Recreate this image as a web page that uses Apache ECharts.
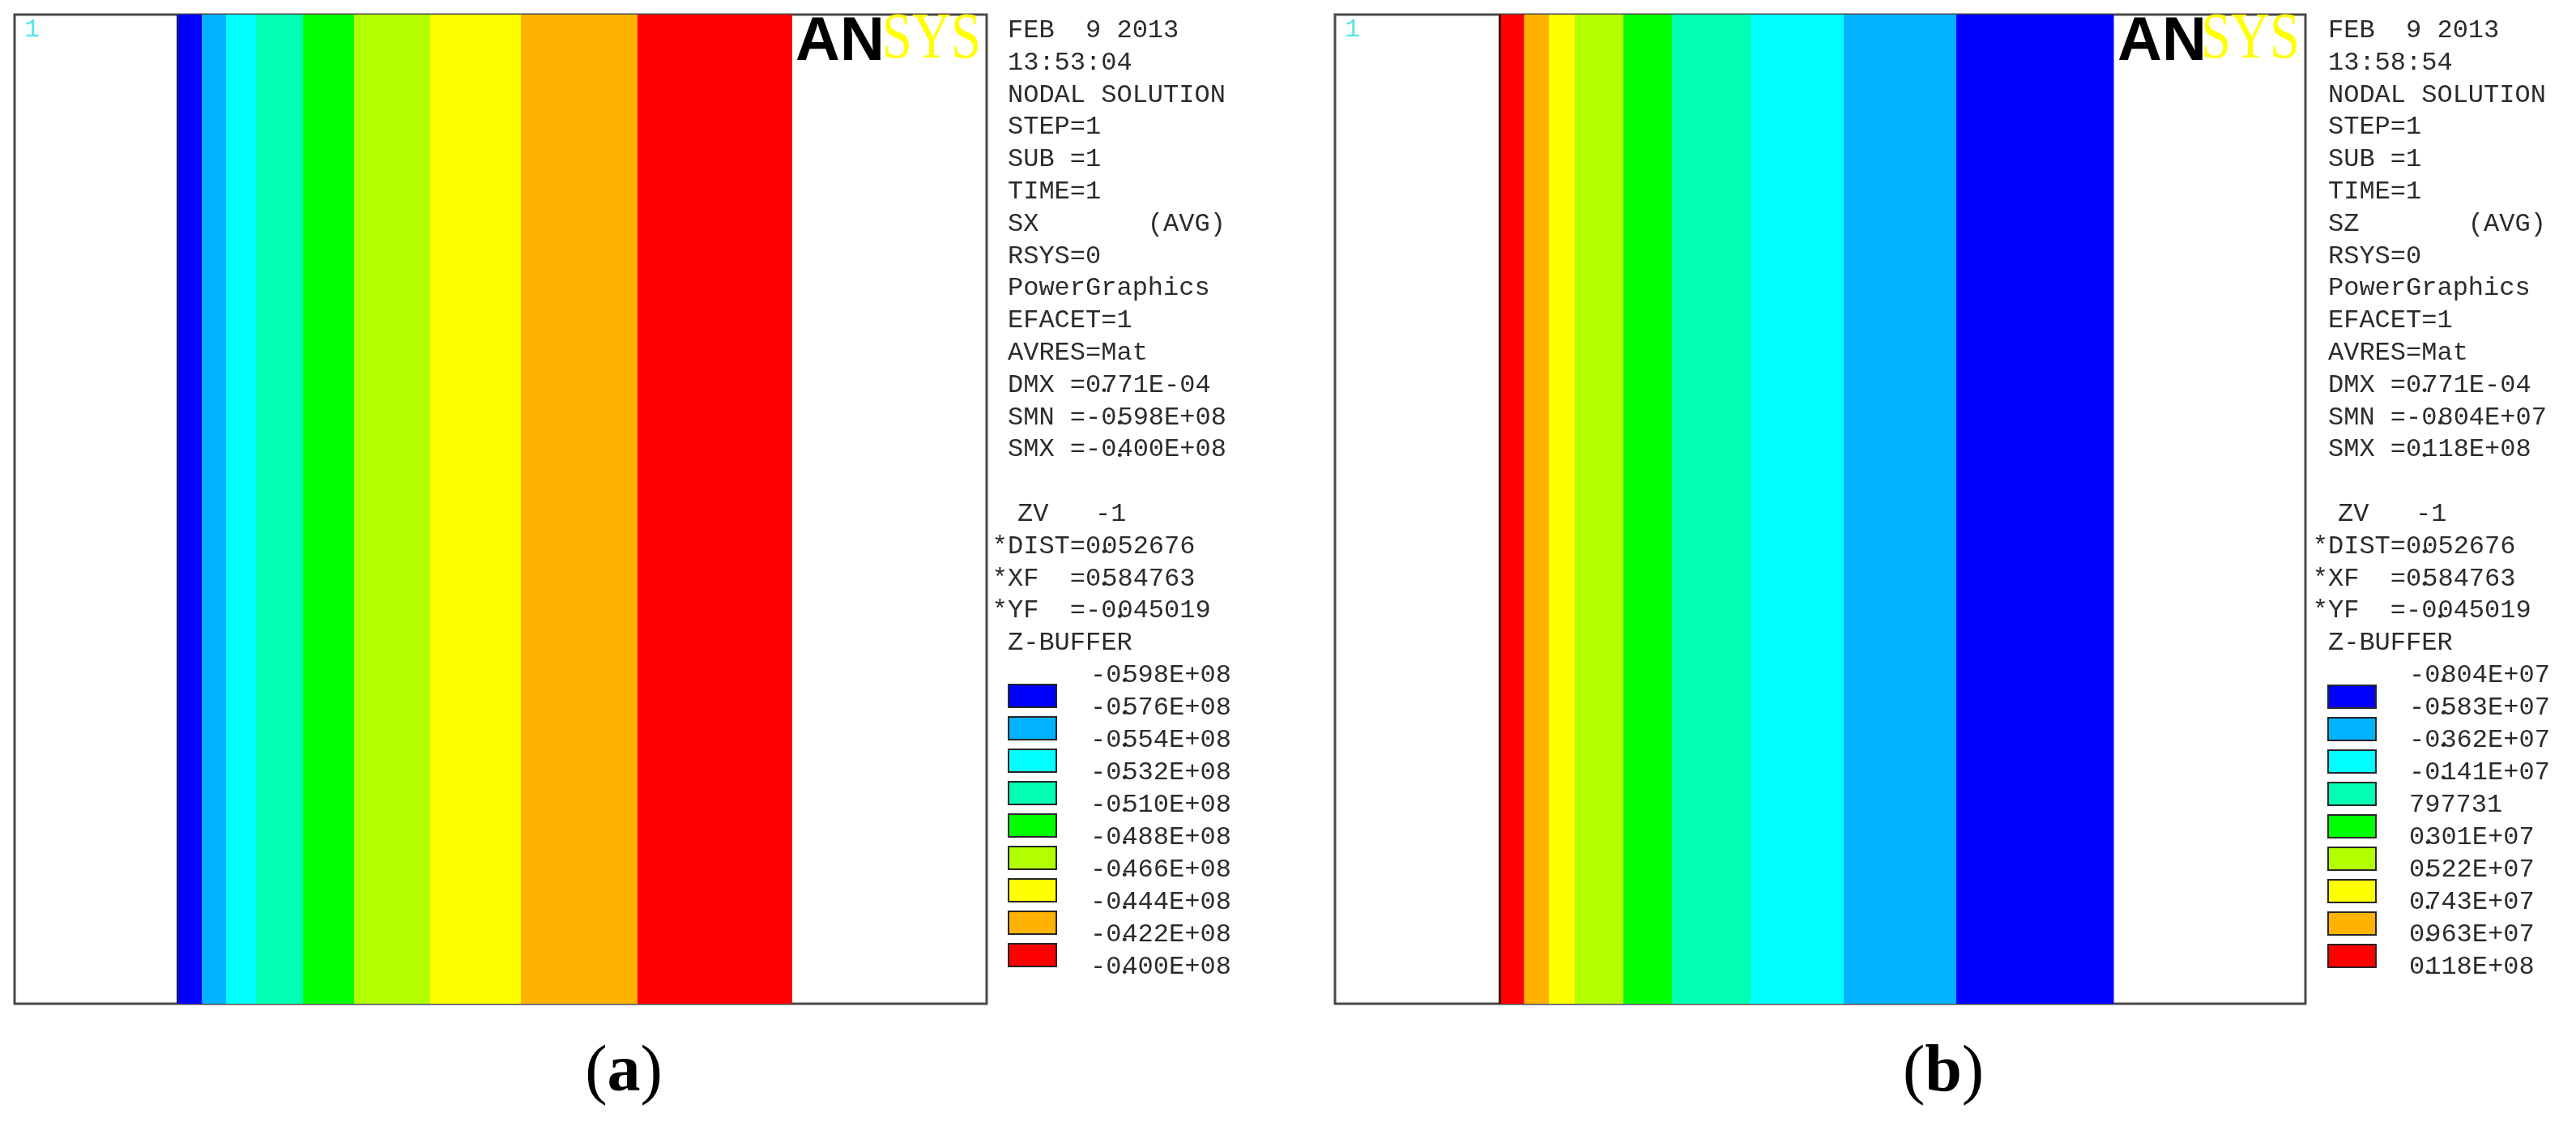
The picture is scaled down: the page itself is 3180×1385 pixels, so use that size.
<!DOCTYPE html>
<html>
<head>
<meta charset="utf-8">
<style>html,body{margin:0;padding:0;background:#fff}#chart{width:3180px;height:1385px}</style>
<script src="https://cdn.jsdelivr.net/npm/echarts@6/dist/echarts.min.js"></script>
</head>
<body>
<div id="chart"></div>
<script>
// ---- data (band widths in image length units, left to right) ----
const bandColorsA = ['#0000ff','#00b2ff','#00ffff','#00ffb2','#00ff00','#b2ff00','#ffff00','#ffb200','#ff0000'];
const bandWidthsA = [30,29.5,37,58,63,94,112,144,191];
const whiteLeftA = 201.5;
const modelLengthA = 1200;

const bandColorsB = ['#ff0000','#ffb200','#ffff00','#b2ff00','#00ff00','#00ffb2','#00ffff','#00b2ff','#0000ff'];
const bandWidthsB = [30.7,30.3,32,60,60,97,115,139,194.5];
const whiteLeftB = 203;
const modelLengthB = 1198;

const swatchColors = ['#0000ff','#00b2ff','#00ffff','#00ffb2','#00ff00','#b2ff00','#ffff00','#ffb200','#ff0000'];
const swatchSlots = ['1','2','3','4','5','6','7','8','9'];
const swatchValues = [1,1,1,1,1,1,1,1,1];

const scaleLabelsA = ['-0.598E+08','-0.576E+08','-0.554E+08','-0.532E+08','-0.510E+08','-0.488E+08','-0.466E+08','-0.444E+08','-0.422E+08','-0.400E+08'];
const scaleLabelsB = ['-0.804E+07','-0.583E+07','-0.362E+07','-0.141E+07','797731','0.301E+07','0.522E+07','0.743E+07','0.963E+07','0.118E+08'];

const infoLinesA = ['FEB  9 2013','13:53:04','NODAL SOLUTION','STEP=1','SUB =1','TIME=1','SX       (AVG)','RSYS=0','PowerGraphics','EFACET=1','AVRES=Mat','DMX =0.771E-04','SMN =-0.598E+08','SMX =-0.400E+08','','ZV   -1','*DIST=0.052676','*XF  =0.584763','*YF  =-0.045019','Z-BUFFER'];
const infoLinesB = ['FEB  9 2013','13:58:54','NODAL SOLUTION','STEP=1','SUB =1','TIME=1','SZ       (AVG)','RSYS=0','PowerGraphics','EFACET=1','AVRES=Mat','DMX =0.771E-04','SMN =-0.804E+07','SMX =0.118E+08','','ZV   -1','*DIST=0.052676','*XF  =0.584763','*YF  =-0.045019','Z-BUFFER'];

// ---- layout ----
const MONO = '"Liberation Mono", monospace';
const SERIF = '"Liberation Serif", serif';
const FS = 32, CELL = 19.2, PITCH = 39.8, INK = '#2b2b2b';
const dotRich = {d:{fontSize:30,fontFamily:SERIF,fontWeight:'bold',fill:INK,color:INK,width:1,verticalAlign:'bottom'}};
const mergeDot = s => s.replace('0.', '0{d|.}');

const grids = [], xAxes = [], yAxes = [], series = [], graphics = [];

function addPanel(left, width, modelLength, whiteLeft, widths, colors, edge){
  const g = grids.length;
  grids.push({left, top:18, width, height:1221, show:true, backgroundColor:'#fff', borderColor:'#4a4a4a', borderWidth:3});
  xAxes.push({gridIndex:g, type:'value', min:0, max:modelLength, show:false});
  yAxes.push({gridIndex:g, type:'category', data:['model'], show:false});
  series.push({type:'bar', xAxisIndex:g, yAxisIndex:g, stack:'p'+g, barWidth:'100%', silent:true,
    data:[whiteLeft], itemStyle:{color:'rgba(0,0,0,0)'}});
  widths.forEach((w,i)=>{
    const s = {type:'bar', name:'band '+(i+1), xAxisIndex:g, yAxisIndex:g, stack:'p'+g, barWidth:'100%', silent:true,
      data:[w], itemStyle:{color:colors[i]}};
    if(i===0) s.markLine = {silent:true, symbol:'none', label:{show:false}, animation:false,
      lineStyle:{color:edge, width:3, type:'solid'}, data:[{xAxis:whiteLeft}]};
    series.push(s);
  });
}
function addSwatches(left, top){
  const g = grids.length;
  grids.push({left, top, width:61, height:360});
  xAxes.push({gridIndex:g, type:'value', min:0, max:1, show:false});
  yAxes.push({gridIndex:g, type:'category', inverse:true, data:swatchSlots, show:false});
  series.push({type:'bar', xAxisIndex:g, yAxisIndex:g, barWidth:30, silent:true,
    data:swatchValues.map((v,i)=>({value:v,itemStyle:{color:swatchColors[i],borderColor:'#262626',borderWidth:2}}))});
}
function addScaleLabels(left, labels){
  const g = grids.length;
  grids.push({left, top:813.5, width:1, height:400});
  xAxes.push({gridIndex:g, type:'value', min:0, max:1, show:false});
  yAxes.push({gridIndex:g, type:'category', inverse:true, position:'right', data:labels,
    axisLine:{show:false}, axisTick:{show:false}, splitLine:{show:false},
    axisLabel:{show:true, interval:0, hideOverlap:false, margin:0, align:'left', fontFamily:MONO, fontSize:FS, color:INK,
      formatter:mergeDot, rich:dotRich}});
}
function addInfo(x, lines){
  lines.forEach((t,i)=>{
    if(!t) return;
    let lx = x;
    if(t[0]==='*') lx = x - CELL;
    if(t.startsWith('ZV')) lx = x + 12;
    graphics.push({type:'text', x:lx, y:37.5+i*PITCH, silent:true, style:{text:mergeDot(t), fontFamily:MONO, fontSize:FS, fill:INK,
      verticalAlign:'middle', align:'left', rich:dotRich}});
  });
}
function addLogo(x, y, xs){
  graphics.push({type:'text', x:x, y:y, silent:true, style:{text:'AN', fontFamily:'"Liberation Sans"', fontWeight:'bold', fontSize:76, fill:'#000', verticalAlign:'bottom', align:'left'}});
  graphics.push({type:'text', x:xs, y:y-1, scaleX:0.83, silent:true, style:{text:'SYS', fontFamily:SERIF, fontSize:80, fill:'#ffff00', verticalAlign:'bottom', align:'left'}});
}
function addCaption(cx, letter){
  graphics.push({type:'text', x:cx, y:1325, silent:true, style:{text:'({l|'+letter+'})', fontFamily:SERIF, fontSize:82, fill:'#000',
    align:'center', verticalAlign:'middle', rich:{l:{fontFamily:SERIF, fontSize:82, fontWeight:'bold', fill:'#000'}}}});
}
function addMark(x){
  graphics.push({type:'text', x:x, y:37, silent:true, style:{text:'1', fontFamily:MONO, fontSize:32, fill:'#55e6e6', verticalAlign:'middle', align:'left'}});
}

addPanel(18, 1200, modelLengthA, whiteLeftA, bandWidthsA, bandColorsA, '#1a1a80');
addSwatches(1244, 839);
addScaleLabels(1345, scaleLabelsA);
addPanel(1648, 1198, modelLengthB, whiteLeftB, bandWidthsB, bandColorsB, '#3a1a1a');
addSwatches(2873, 840);
addScaleLabels(2973, scaleLabelsB);

addInfo(1244, infoLinesA);
addInfo(2874, infoLinesB);
addLogo(982, 91, 1089);
addLogo(2614, 91, 2717);
addMark(30);
addMark(1660);
addCaption(770, 'a');
addCaption(2399, 'b');

const chart = echarts.init(document.getElementById('chart'), null, {renderer:'canvas'});
chart.setOption({
  animation:false, backgroundColor:'#fff',
  grid:grids, xAxis:xAxes, yAxis:yAxes, series:series, graphic:{elements:graphics}
});
</script>
</body>
</html>
